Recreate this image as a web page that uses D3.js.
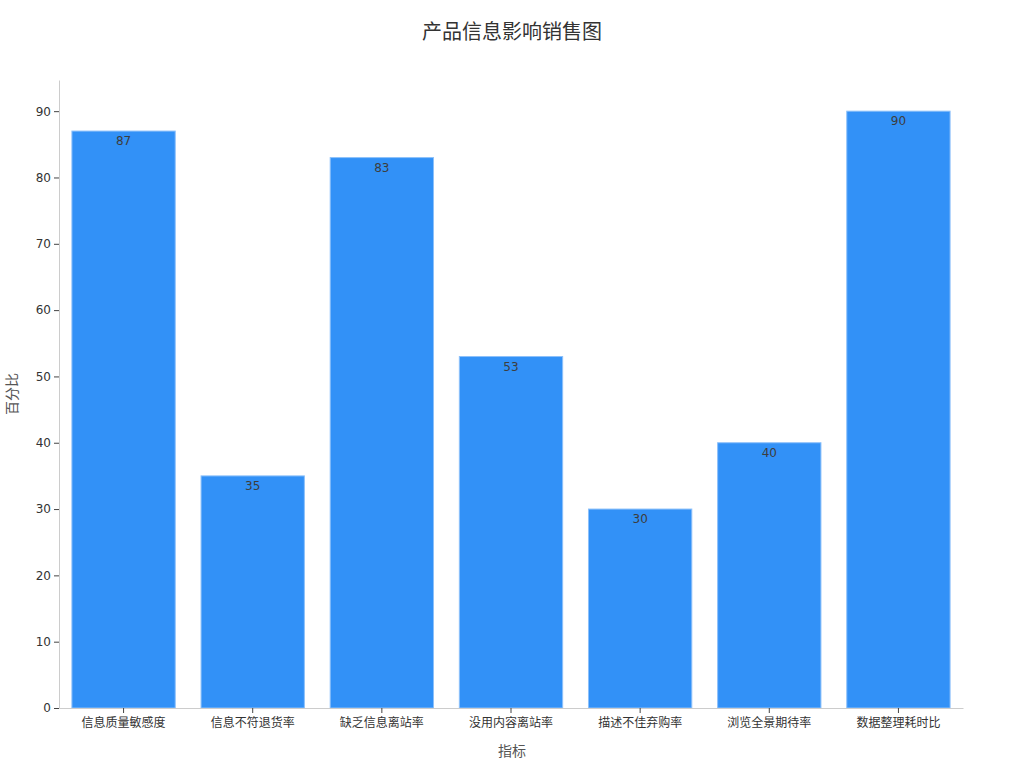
<!DOCTYPE html>
<html>
<head>
<meta charset="utf-8">
<style>
  body { margin: 0; background: #fff; }
  text { font-family: "DejaVu Sans", "Noto Sans CJK SC", sans-serif; }
  .bar { fill: #3291f7; stroke: #8cc0fa; stroke-width: 1; }
</style>
</head>
<body>
<svg width="1024" height="768"></svg>
<script src="https://d3js.org/d3.v7.min.js"></script>
<script>
const categories = ["信息质量敏感度", "信息不符退货率", "缺乏信息离站率", "没用内容离站率", "描述不佳弃购率", "浏览全景期待率", "数据整理耗时比"];
const values = [87, 35, 83, 53, 30, 40, 90];
const yTicks = [0, 10, 20, 30, 40, 50, 60, 70, 80, 90];

const svg = d3.select("svg");
const margin = { top: 80, right: 61, bottom: 60, left: 59 };
const width = 1024 - margin.left - margin.right,
      height = 768 - margin.top - margin.bottom;
const g = svg.append("g").attr("transform", "translate(" + margin.left + "," + margin.top + ")");

const x = d3.scaleBand().domain(categories).range([0, width]).paddingInner(0.2).paddingOuter(0.1);
const y = d3.scaleLinear().domain([0, 94.7]).range([height, 0]);

// bars
g.selectAll(".bar")
  .data(values)
  .enter().append("rect")
  .attr("class", "bar")
  .attr("x", (d, i) => x(categories[i]))
  .attr("y", d => y(d))
  .attr("width", x.bandwidth())
  .attr("height", d => height - y(d));

// value labels
g.selectAll(".val")
  .data(values)
  .enter().append("text")
  .attr("class", "val")
  .attr("x", (d, i) => x(categories[i]) + x.bandwidth() / 2)
  .attr("y", d => y(d) + 14)
  .attr("text-anchor", "middle")
  .style("font-size", "12px")
  .style("fill", "#3d3d3d")
  .text(d => d);

// axes
const xAxis = g.append("g")
  .attr("transform", "translate(0," + height + ")")
  .call(d3.axisBottom(x).tickSize(5).tickSizeOuter(0));
xAxis.select(".domain").attr("stroke", "#cccccc");
xAxis.selectAll(".tick line").attr("stroke", "#444");
xAxis.selectAll(".tick text").style("font-size", "12px").style("fill", "#333").attr("dy", "0.9em");

const yAxis = g.append("g")
  .call(d3.axisLeft(y).tickValues(yTicks).tickSize(5).tickSizeOuter(0));
yAxis.select(".domain").attr("stroke", "#cccccc");
yAxis.selectAll(".tick line").attr("stroke", "#444");
yAxis.selectAll(".tick text").style("font-size", "12px").style("fill", "#333");

// title and axis labels
svg.append("text")
  .attr("x", 512).attr("y", 39)
  .attr("text-anchor", "middle")
  .style("font-size", "20px")
  .style("fill", "#333")
  .text("产品信息影响销售图");

svg.append("text")
  .attr("x", 512).attr("y", 756)
  .attr("text-anchor", "middle")
  .style("font-size", "14px")
  .style("fill", "#555")
  .text("指标");

svg.append("text")
  .attr("transform", "translate(17,394) rotate(-90)")
  .attr("text-anchor", "middle")
  .style("font-size", "14px")
  .style("fill", "#555")
  .text("百分比");
</script>
</body>
</html>
